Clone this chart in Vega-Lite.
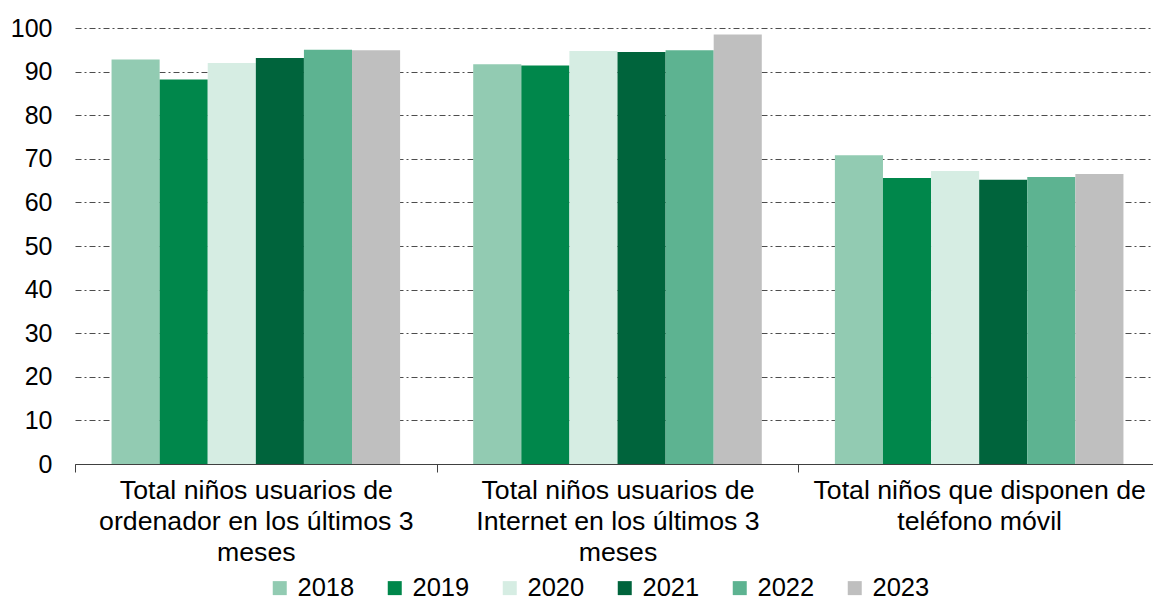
{
  "$schema": "https://vega.github.io/schema/vega-lite/v6.json",
  "width": 1078,
  "height": 436,
  "autosize": {"type": "none"},
  "padding": {"left": 75, "top": 28, "right": 0, "bottom": 136},
  "config": {
    "font": "Liberation Sans",
    "view": {"stroke": null},
    "background": "white"
  },
  "data": {
    "values": [
      {"category": "Total niños usuarios de ordenador en los últimos 3 meses", "year": "2018", "value": 92.8},
      {"category": "Total niños usuarios de ordenador en los últimos 3 meses", "year": "2019", "value": 88.2},
      {"category": "Total niños usuarios de ordenador en los últimos 3 meses", "year": "2020", "value": 92.0},
      {"category": "Total niños usuarios de ordenador en los últimos 3 meses", "year": "2021", "value": 93.1},
      {"category": "Total niños usuarios de ordenador en los últimos 3 meses", "year": "2022", "value": 95.0},
      {"category": "Total niños usuarios de ordenador en los últimos 3 meses", "year": "2023", "value": 94.9},
      {"category": "Total niños usuarios de Internet en los últimos 3 meses", "year": "2018", "value": 91.7},
      {"category": "Total niños usuarios de Internet en los últimos 3 meses", "year": "2019", "value": 91.4},
      {"category": "Total niños usuarios de Internet en los últimos 3 meses", "year": "2020", "value": 94.7},
      {"category": "Total niños usuarios de Internet en los últimos 3 meses", "year": "2021", "value": 94.5},
      {"category": "Total niños usuarios de Internet en los últimos 3 meses", "year": "2022", "value": 94.9},
      {"category": "Total niños usuarios de Internet en los últimos 3 meses", "year": "2023", "value": 98.5},
      {"category": "Total niños que disponen de teléfono móvil", "year": "2018", "value": 70.8},
      {"category": "Total niños que disponen de teléfono móvil", "year": "2019", "value": 65.6},
      {"category": "Total niños que disponen de teléfono móvil", "year": "2020", "value": 67.2},
      {"category": "Total niños que disponen de teléfono móvil", "year": "2021", "value": 65.2},
      {"category": "Total niños que disponen de teléfono móvil", "year": "2022", "value": 65.8},
      {"category": "Total niños que disponen de teléfono móvil", "year": "2023", "value": 66.5}
    ]
  },
  "mark": {"type": "bar"},
  "encoding": {
    "x": {
      "field": "category",
      "type": "nominal",
      "sort": null,
      "scale": {"paddingInner": 0, "paddingOuter": 0, "range": [0, 1085]},
      "axis": {
        "title": null,
        "labelAngle": 0,
        "tickBand": "extent",
        "ticks": true,
        "tickSize": 8,
        "tickColor": "#404040",
        "domainColor": "#404040",
        "labelFontSize": 26.7,
        "labelLineHeight": 31,
        "labelPadding": 5,
        "labelColor": "#000000",
        "labelLimit": 0,
        "grid": false,
        "labelExpr": "datum.value == 'Total niños usuarios de ordenador en los últimos 3 meses' ? ['Total niños usuarios de', 'ordenador en los últimos 3', 'meses'] : datum.value == 'Total niños usuarios de Internet en los últimos 3 meses' ? ['Total niños usuarios de', 'Internet en los últimos 3', 'meses'] : datum.value == 'Total niños que disponen de teléfono móvil' ? ['Total niños que disponen de', 'teléfono móvil'] : ''"
      }
    },
    "xOffset": {
      "field": "year",
      "type": "nominal",
      "scale": {"paddingInner": 0, "paddingOuter": 0.76}
    },
    "y": {
      "field": "value",
      "type": "quantitative",
      "scale": {"domain": [0, 100]},
      "axis": {
        "title": null,
        "values": [0, 10, 20, 30, 40, 50, 60, 70, 80, 90, 100],
        "domain": false,
        "ticks": false,
        "labelFontSize": 25,
        "labelPadding": 23,
        "labelColor": "#000000",
        "gridColor": "#4d4d4d",
        "gridDash": [6, 3, 2, 3],
        "gridWidth": 1
      }
    },
    "color": {
      "field": "year",
      "type": "nominal",
      "scale": {
        "domain": ["2018", "2019", "2020", "2021", "2022", "2023"],
        "range": ["#92CBB2", "#00874B", "#D6EDE3", "#00643C", "#5DB391", "#BFBFBF"]
      },
      "legend": {
        "title": null,
        "orient": "none",
        "direction": "horizontal",
        "legendX": 192,
        "legendY": 547,
        "symbolType": "square",
        "symbolSize": 196,
        "symbolStrokeWidth": 0,
        "labelFontSize": 25.5,
        "labelColor": "#000000",
        "labelOffset": 5,
        "columnPadding": 27
      }
    }
  }
}
